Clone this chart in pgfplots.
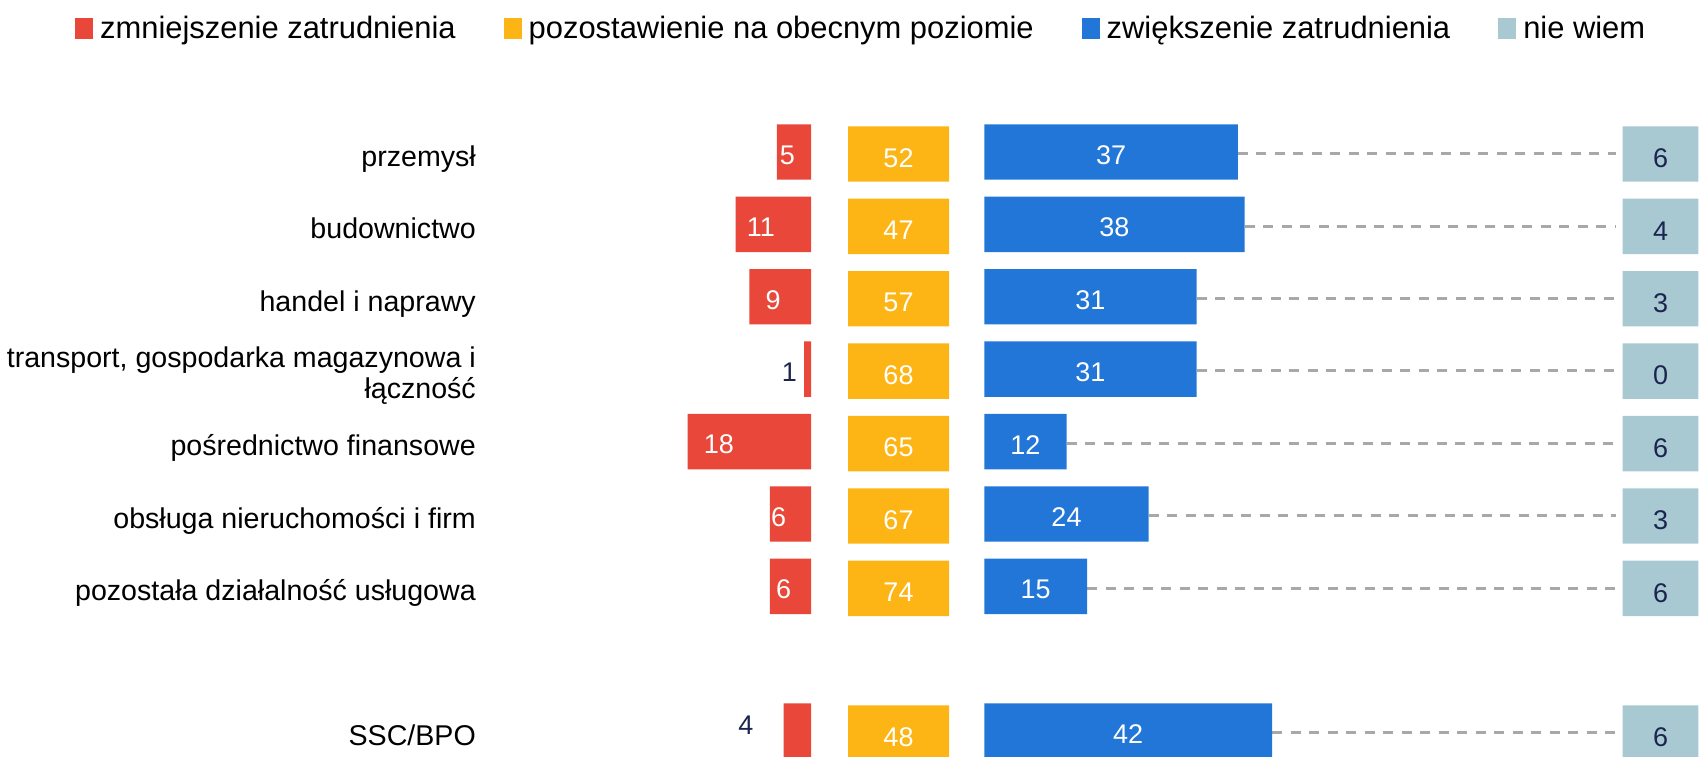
\documentclass[border=0pt]{standalone}
\usepackage{pgfplots}
\pgfplotsset{compat=1.18}
\usepackage{pgfplotstable}
\usepackage{fontspec}
\setmainfont{Liberation Sans}
\definecolor{cred}{HTML}{E8473A}
\definecolor{cyel}{HTML}{FDB515}
\definecolor{cblue}{HTML}{2276D8}
\definecolor{cgray}{HTML}{A8C9D1}
\definecolor{cdash}{HTML}{A8A8A8}
\definecolor{cnavy}{HTML}{1B2550}
\newcommand\labfont{\fontsize{28.6}{31}\selectfont}
\newcommand\legfont{\fontsize{30.9}{36}\selectfont}
\newcommand\valfont{\fontsize{27}{30}\selectfont}

\pgfplotstableread{
row zmn poz zwi nw
0 5 52 37 6
-1 11 47 38 4
-2 9 57 31 3
-3 1 68 31 0
-4 18 65 12 6
-5 6 67 24 3
-6 6 74 15 6
-8 4 48 42 6
}\data
\pgfplotstableread{
row val dx dy
0 5 3 -3
-1 11 11 -3
-2 9 16 -3
-4 18 16 -3
-5 6 1 -3
-6 6 6 -3
}\redin
\pgfplotstableread{
row val dx dy
-3 1 -7 -3
-8 4 -30 6
}\redout

\pgfplotsset{
  base/.style={
    y=72.4pt, ymin=-8.5, ymax=0.5,
    axis line style={draw=none},
    tick style={draw=none},
    xtick=\empty, ytick=\empty,
    clip=false,
  },
  bw/.style={xbar, bar width=55.4pt, draw=none},
  lab/.style={draw=none, forget plot, nodes near coords, point meta=explicit symbolic,
    nodes near coords style={font=\valfont, inner sep=0pt}},
}
\begin{document}
\begin{tikzpicture}
\path[use as bounding box] (0,0) rectangle (1703pt,757pt);
\clip (0,0) rectangle (1703pt,757pt);
% red axis with category labels and legend
\begin{axis}[base, x=6.85pt, xmin=-48.905, xmax=0,
  at={(811pt,641.2pt)}, anchor=north east,
  ytick={-8,-6,-5,-4,-3,-2,-1,0},
  yticklabels={SSC/BPO, pozostała działalność usługowa, obsługa nieruchomości i firm, pośrednictwo finansowe, {\raisebox{-14.7pt}{\begin{tabular}[b]{@{}r@{}}transport, gospodarka magazynowa i\\łączność\end{tabular}}}, handel i naprawy, budownictwo, przemysł},
  yticklabel style={font=\labfont, anchor=base east, yshift=-14.3pt, inner sep=0pt},
  legend columns=4,
  legend image code/.code={\fill (0pt,0pt) rectangle (18pt,20.7pt);},
  legend style={at={(axis description cs:-1.19642,1.1527)}, anchor=north west,
    draw=none, fill=none, inner sep=0pt, outer sep=0pt, font=\legfont,
    cells={anchor=base west}, nodes={inner sep=0pt},
    /tikz/every odd column/.append style={column sep=7pt},
    /tikz/every even column/.append style={column sep=48pt}},
]
\addplot[bw, fill=cred, forget plot] table[x expr=-\thisrow{zmn}, y=row]{\data};
\addplot[lab,
  visualization depends on={\thisrow{dx}\as\dx},
  visualization depends on={\thisrow{dy}\as\dy},
  nodes near coords style={anchor=west, xshift=\dx pt, yshift=\dy pt, text=white}]
  table[x expr=-\thisrow{val}, y=row, meta=val]{\redin};
\addplot[lab,
  visualization depends on={\thisrow{dx}\as\dx},
  visualization depends on={\thisrow{dy}\as\dy},
  nodes near coords style={anchor=east, xshift=\dx pt, yshift=\dy pt, text=cnavy}]
  table[x expr=-\thisrow{val}, y=row, meta=val]{\redout};
\addlegendimage{fill=cred, draw=none}\addlegendentry{zmniejszenie zatrudnienia}
\addlegendimage{fill=cyel, draw=none}\addlegendentry{pozostawienie na obecnym poziomie}
\addlegendimage{fill=cblue, draw=none}\addlegendentry{zwiększenie zatrudnienia}
\addlegendimage{fill=cgray, draw=none}\addlegendentry{nie wiem}
\end{axis}
% yellow
\begin{axis}[base, x=101pt, xmin=0, xmax=1, at={(848pt,641.2pt)}, anchor=north west]
\addplot[bw, fill=cyel, bar shift=-2pt] table[x expr=1, y=row]{\data};
\addplot[lab, nodes near coords style={anchor=center, yshift=-6pt, text=white}]
  table[x expr=0.5, y=row, meta=poz]{\data};
\end{axis}
% blue
\begin{axis}[base, x=6.85pt, xmin=0, xmax=92.2, at={(984.3pt,641.2pt)}, anchor=north west]
\addplot[draw=none, forget plot, error bars/.cd, x dir=plus, x explicit, error mark=none,
  error bar style={draw=cdash, line width=2.9pt, dash pattern=on 10pt off 8.5pt, yshift=-1.7pt}]
  table[x=zwi, y=row, x error expr=92.2-\thisrow{zwi}]{\data};
\addplot[bw, fill=cblue] table[x=zwi, y=row]{\data};
\addplot[lab, nodes near coords style={anchor=center, yshift=-3pt, text=white}]
  table[x expr=\thisrow{zwi}/2, y=row, meta=zwi]{\data};
\end{axis}
% gray
\begin{axis}[base, x=75.6pt, xmin=0, xmax=1, at={(1622.7pt,641.2pt)}, anchor=north west]
\addplot[bw, fill=cgray, bar shift=-2pt] table[x expr=1, y=row]{\data};
\addplot[lab, nodes near coords style={anchor=center, yshift=-6.5pt, text=cnavy}]
  table[x expr=0.5, y=row, meta=nw]{\data};
\end{axis}
\end{tikzpicture}
\end{document}
